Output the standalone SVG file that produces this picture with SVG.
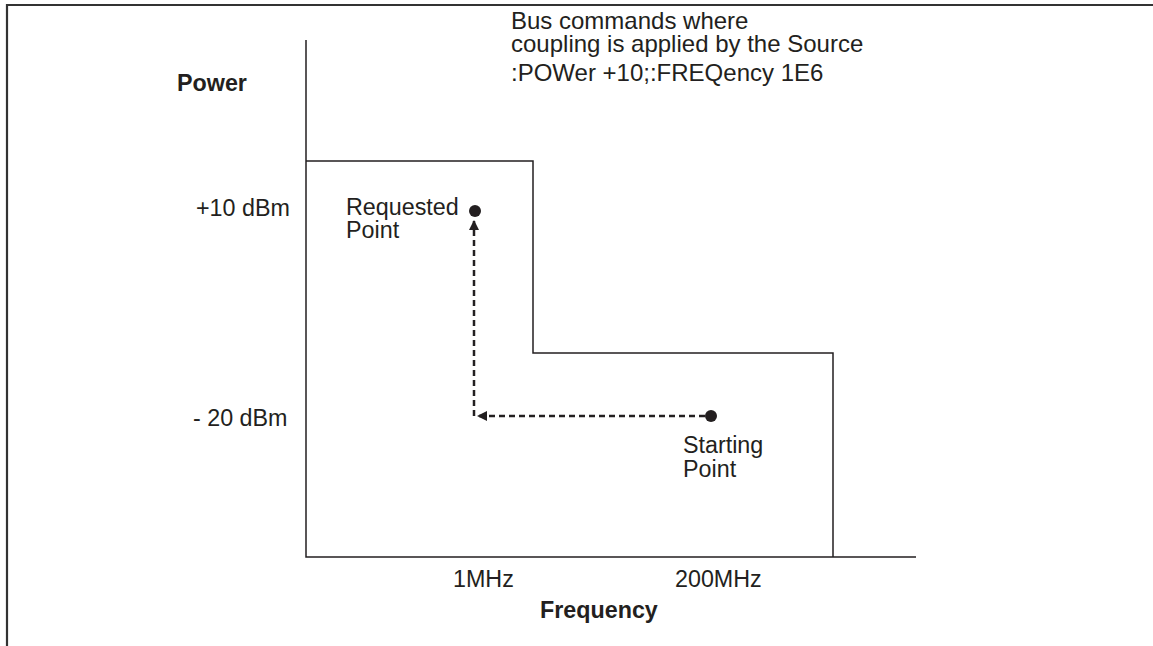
<svg xmlns="http://www.w3.org/2000/svg" width="1153" height="646" viewBox="0 0 1153 646">
<style>
text{font-family:"Liberation Sans",Arial,sans-serif;font-size:23.3px;fill:#231f20}
.b{font-weight:bold}
.cap{font-size:24px}
.ax{stroke:#231f20;stroke-width:1.5;fill:none}
.dash{stroke:#231f20;stroke-width:2.5;stroke-dasharray:6 4;fill:none}
</style>
<defs>
<marker id="ah" viewBox="0 0 10 10" refX="9" refY="5" markerWidth="4" markerHeight="4" orient="auto" markerUnits="strokeWidth">
<path d="M0,0 L10,5 L0,10 z" fill="#231f20"/>
</marker>
</defs>
<rect width="1153" height="646" fill="#fff"/>
<g id="frame">
<path d="M7,646 V5 H1153" fill="none" stroke="#333" stroke-width="2.2"/>
</g>
<g id="axes">
<path class="ax" d="M306,40 V557 H916"/>
<text x="177" y="91" class="b">Power</text>
<text x="540" y="618" class="b">Frequency</text>
<text x="196" y="216">+10 dBm</text>
<text x="193" y="426">- 20 dBm</text>
<text x="453" y="587">1MHz</text>
<text x="675" y="587">200MHz</text>
</g>
<g id="limit">
<path class="ax" d="M306,161 H533 V353 H833 V557"/>
</g>
<g id="caption">
<text x="511" y="29" class="cap">Bus commands where</text>
<text x="511" y="52" class="cap">coupling is applied by the Source</text>
<text x="511" y="81" class="cap">:POWer +10;:FREQency 1E6</text>
</g>
<g id="requested">
<circle cx="475" cy="211" r="6" fill="#231f20"/>
<text x="346" y="215">Requested</text>
<text x="346" y="238">Point</text>
</g>
<g id="starting">
<circle cx="711" cy="416" r="6" fill="#231f20"/>
<text x="683" y="453">Starting</text>
<text x="683" y="477">Point</text>
</g>
<g id="connectors">
<path class="dash" d="M705,416 H478" marker-end="url(#ah)"/>
<path class="dash" d="M474,416 V221" marker-end="url(#ah)"/>
</g>
</svg>
